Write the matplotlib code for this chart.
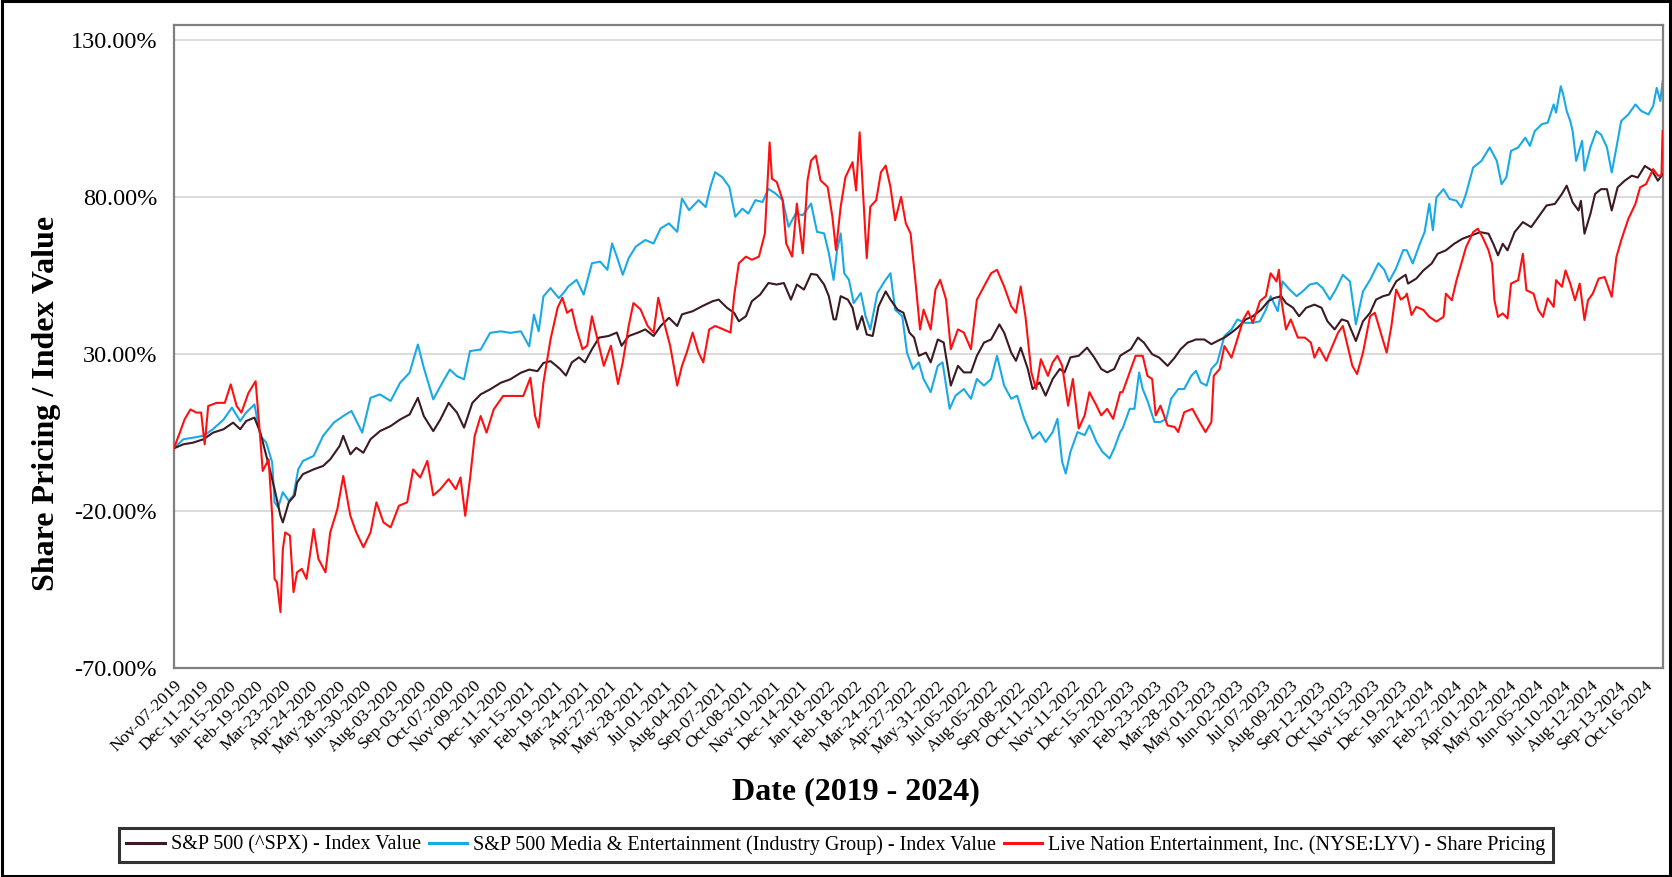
import matplotlib.pyplot as plt
from matplotlib.patches import Rectangle
from matplotlib.ticker import FuncFormatter

# trading-day index since Nov-07-2019, % change since start
spx_day = [0, 8, 16, 25, 33, 42, 50, 56, 61, 68, 73, 77, 81, 85, 90, 92, 97, 102, 104, 109,
           118, 126, 132, 140, 143, 149, 154, 160, 166, 174, 183, 191, 199, 206, 211, 219, 225, 232, 239, 245,
           252, 259, 267, 276, 284, 293, 300, 307, 312, 318, 321, 326, 331, 336, 342, 347, 353, 359, 367, 374,
           378, 384, 392, 398, 405, 411, 418, 425, 429, 438, 446, 455, 460, 467, 473, 477, 483, 488, 495, 502,
           509, 515, 521, 526, 532, 538, 543, 549, 553, 557, 559, 563, 569, 573, 577, 581, 585, 590, 595, 601,
           605, 611, 616, 621, 625, 629, 635, 639, 645, 650, 656, 662, 667, 673, 678, 684, 690, 697, 701, 707,
           711, 715, 721, 725, 731, 736, 742, 748, 752, 757, 764, 771, 777, 783, 788, 794, 799, 801, 808, 814,
           819, 826, 832, 839, 845, 850, 856, 863, 870, 876, 881, 887, 893, 898, 905, 911, 918, 924, 929, 935,
           939, 945, 950, 956, 963, 969, 974, 980, 986, 991, 998, 1004, 1010, 1015, 1021, 1026, 1032, 1036, 1040, 1042,
           1049, 1055, 1062, 1067, 1074, 1081, 1088, 1095, 1103, 1110, 1114, 1118, 1122, 1126, 1132, 1139, 1146, 1152, 1159, 1166,
           1172, 1176, 1181, 1186, 1188, 1191, 1196, 1200, 1205, 1210, 1214, 1219, 1225, 1231, 1236, 1242, 1248, 1253, 1257]
spx_val = [0.0, 1.3, 1.8, 2.9, 5.0, 6.1, 8.2, 6.1, 8.7, 9.8, 5.0, -0.8, -6.7, -13.0, -21.5, -23.6, -17.2, -15.0, -10.9, -8.2,
           -6.7, -5.6, -3.5, 0.8, 4.0, -1.9, 0.2, -1.4, 2.9, 5.5, 7.1, 9.2, 10.8, 16.1, 10.3, 5.5, 9.2, 14.5, 11.4, 6.6,
           14.5, 17.2, 18.8, 20.9, 22.0, 24.1, 25.1, 24.6, 27.2, 27.8, 26.9, 25.3, 23.2, 27.4, 29.0, 27.4, 31.6, 35.3, 35.8, 36.9,
           32.7, 35.8, 36.9, 37.9, 35.8, 39.0, 41.6, 39.0, 42.7, 43.7, 45.3, 46.9, 47.4, 44.8, 43.2, 40.5, 42.1, 46.9, 49.0, 52.7,
           52.2, 52.7, 47.4, 52.2, 50.6, 55.6, 55.3, 52.2, 48.5, 41.1, 41.1, 48.5, 47.4, 44.8, 37.9, 42.1, 36.3, 35.8, 45.3, 50.0,
           47.4, 44.2, 43.2, 36.9, 35.3, 29.5, 30.5, 27.4, 34.7, 33.7, 20.0, 26.3, 24.2, 24.2, 29.5, 33.7, 34.7, 39.5, 36.9, 30.5,
           27.9, 32.1, 25.3, 18.9, 21.0, 16.8, 22.1, 25.3, 24.2, 29.0, 29.5, 32.1, 29.0, 25.3, 24.2, 25.3, 29.5, 30.0, 31.6, 35.3,
           33.7, 30.0, 28.9, 26.3, 28.9, 31.6, 33.7, 34.7, 34.7, 33.2, 34.2, 35.3, 36.9, 38.4, 41.1, 42.1, 44.2, 46.9, 47.9, 48.5,
           46.3, 44.8, 42.1, 44.8, 45.8, 44.8, 40.5, 37.9, 41.1, 40.5, 34.2, 40.5, 43.2, 47.4, 48.5, 49.0, 53.2, 54.3, 55.3, 52.5,
           54.1, 56.7, 58.9, 62.0, 63.1, 65.2, 66.8, 67.8, 68.9, 68.4, 65.2, 61.5, 65.2, 63.1, 68.9, 72.1, 70.5, 73.7, 77.4, 77.9,
           81.1, 83.7, 78.4, 75.8, 78.9, 68.4, 74.7, 81.1, 82.6, 82.6, 75.8, 83.2, 85.3, 86.9, 86.3, 90.0, 88.5, 85.3, 87.4]

media_day = [0, 8, 16, 25, 33, 42, 49, 56, 61, 68, 73, 78, 83, 85, 88, 92, 97, 101, 105, 109,
             118, 126, 135, 143, 150, 159, 166, 174, 183, 191, 199, 206, 211, 219, 225, 233, 239, 245, 250, 259,
             267, 276, 284, 293, 300, 304, 308, 312, 318, 319, 325, 329, 333, 340, 346, 353, 360, 366, 370, 374,
             379, 384, 390, 398, 405, 411, 418, 425, 429, 435, 443, 449, 453, 457, 463, 469, 474, 480, 485, 491,
             497, 502, 508, 514, 519, 525, 531, 538, 543, 549, 553, 557, 560, 563, 566, 570, 574, 580, 584, 588,
             594, 600, 605, 609, 615, 619, 624, 629, 633, 639, 645, 649, 655, 660, 667, 673, 678, 684, 690, 695,
             701, 707, 712, 718, 725, 731, 736, 742, 746, 750, 753, 757, 763, 769, 773, 779, 784, 790, 794, 799,
             801, 807, 811, 815, 818, 822, 828, 833, 838, 842, 848, 853, 859, 863, 867, 872, 876, 881, 887, 893,
             898, 904, 911, 917, 922, 926, 932, 936, 942, 948, 953, 959, 965, 970, 976, 981, 987, 993, 998, 1004,
             1010, 1017, 1022, 1026, 1032, 1038, 1041, 1046, 1052, 1056, 1060, 1063, 1066, 1072, 1077, 1083, 1087, 1091, 1097, 1104,
             1111, 1117, 1121, 1125, 1129, 1135, 1141, 1145, 1149, 1155, 1160, 1165, 1167, 1171, 1173, 1176, 1179, 1181, 1184, 1189,
             1191, 1196, 1201, 1205, 1210, 1214, 1218, 1222, 1228, 1234, 1239, 1245, 1249, 1252, 1255, 1257]
media_val = [0.0, 2.9, 3.4, 4.0, 6.1, 9.2, 13.0, 8.7, 11.4, 14.0, 4.0, 1.8, -4.5, -17.2, -18.8, -14.0, -16.7, -15.0, -6.7, -4.0,
             -2.4, 4.0, 8.2, 10.3, 11.9, 5.0, 16.1, 17.2, 15.1, 20.9, 24.1, 33.1, 25.7, 15.6, 19.8, 25.1, 23.0, 22.0, 31.0, 31.5,
             36.8, 37.3, 36.8, 37.3, 32.5, 42.6, 37.3, 48.4, 51.1, 50.6, 47.9, 49.5, 51.6, 53.7, 49.0, 59.0, 59.5, 56.9, 65.3, 61.1,
             55.3, 60.6, 64.3, 66.4, 65.3, 70.1, 71.7, 69.0, 79.6, 75.9, 79.1, 76.9, 83.3, 88.0, 86.4, 83.3, 73.8, 76.4, 74.8, 79.1,
             78.5, 82.7, 81.2, 79.1, 70.6, 74.8, 74.3, 78.0, 69.0, 68.5, 62.2, 53.7, 63.2, 68.5, 55.8, 53.7, 46.3, 49.5, 42.1, 37.9,
             49.5, 53.2, 55.8, 44.2, 42.1, 30.5, 25.3, 27.4, 22.1, 17.9, 26.3, 27.4, 12.6, 16.8, 18.9, 15.8, 22.1, 20.0, 22.1, 29.5,
             20.0, 15.8, 16.8, 9.4, 3.1, 5.2, 2.0, 5.2, 9.4, -4.3, -8.0, -1.1, 5.2, 4.2, 7.3, 2.0, -1.1, -3.2, 0.0, 5.2,
             6.3, 12.6, 12.6, 24.2, 18.9, 15.2, 8.4, 8.4, 9.4, 15.8, 18.9, 18.9, 23.1, 24.7, 21.0, 20.0, 25.3, 27.4, 35.8, 37.9,
             41.1, 40.0, 40.0, 40.5, 44.2, 48.5, 43.7, 53.2, 50.6, 48.5, 50.0, 52.2, 52.7, 51.1, 47.4, 50.6, 55.3, 53.2, 39.5, 50.0,
             53.7, 59.0, 56.9, 53.2, 57.4, 63.2, 63.1, 58.9, 65.2, 68.9, 77.9, 69.5, 80.0, 82.6, 79.5, 78.9, 76.8, 81.1, 89.5, 91.6,
             95.9, 91.6, 84.2, 86.3, 94.8, 95.9, 99.0, 96.4, 101.1, 103.3, 103.8, 109.6, 107.0, 115.4, 112.8, 107.5, 104.3, 101.1, 91.6, 98.0,
             88.5, 95.9, 101.1, 100.0, 95.9, 87.9, 95.9, 104.3, 106.4, 109.6, 107.5, 106.4, 109.1, 114.9, 110.7, 117.0]

lyv_day = [0, 5, 9, 14, 19, 23, 26, 29, 36, 43, 48, 53, 57, 63, 69, 73, 75, 80, 83, 85,
           87, 90, 92, 94, 98, 101, 104, 108, 112, 118, 122, 128, 132, 138, 143, 149, 154, 160, 166, 171,
           177, 183, 190, 197, 202, 208, 214, 219, 225, 232, 238, 242, 246, 250, 254, 259, 264, 270, 278, 287,
           295, 301, 305, 308, 312, 318, 324, 328, 332, 336, 340, 345, 349, 353, 357, 363, 369, 375, 379, 384,
           388, 394, 400, 405, 409, 414, 419, 425, 429, 433, 438, 443, 447, 452, 457, 464, 470, 473, 477, 483,
           488, 494, 499, 503, 505, 509, 514, 517, 522, 526, 531, 535, 538, 542, 546, 552, 556, 559, 563, 567,
           573, 576, 579, 581, 585, 588, 593, 597, 601, 605, 609, 614, 618, 622, 626, 630, 633, 639, 643, 647,
           652, 656, 662, 667, 673, 678, 684, 690, 695, 701, 707, 711, 715, 719, 724, 728, 732, 738, 742, 746,
           750, 755, 759, 764, 769, 773, 779, 783, 788, 793, 799, 801, 807, 812, 818, 822, 826, 829, 833, 839,
           845, 848, 853, 860, 866, 871, 876, 878, 883, 887, 893, 897, 903, 907, 911, 917, 922, 926, 931, 933,
           935, 939, 943, 949, 955, 960, 963, 967, 973, 977, 983, 987, 991, 995, 999, 1004, 1010, 1014, 1019, 1024,
           1028, 1032, 1036, 1040, 1041, 1045, 1049, 1055, 1060, 1066, 1072, 1074, 1079, 1083, 1087, 1091, 1097, 1101, 1105, 1110,
           1113, 1115, 1118, 1122, 1126, 1129, 1135, 1139, 1142, 1148, 1152, 1156, 1160, 1165, 1167, 1172, 1175, 1179, 1183, 1187,
           1191, 1194, 1198, 1203, 1208, 1214, 1218, 1222, 1228, 1234, 1238, 1243, 1249, 1253, 1256, 1257]
lyv_val = [0.0, 5.0, 9.2, 12.4, 11.4, 11.4, 1.3, 13.5, 14.5, 14.5, 20.4, 13.5, 11.4, 17.7, 21.4, 2.9, -7.2, -3.5, -21.5, -41.6,
           -42.7, -52.2, -32.1, -26.8, -27.8, -45.8, -39.5, -38.4, -41.6, -25.7, -35.2, -39.5, -26.8, -19.4, -8.8, -21.5, -26.8, -31.5, -26.8, -17.2,
           -23.6, -25.2, -18.3, -17.2, -6.7, -9.3, -4.0, -15.0, -13.0, -9.8, -13.0, -9.3, -21.5, -9.8, 4.0, 10.3, 5.0, 12.4, 16.7, 16.7,
           16.7, 22.5, 10.3, 6.6, 20.9, 34.7, 44.8, 48.0, 43.2, 44.3, 37.9, 31.6, 32.7, 42.1, 35.8, 26.3, 32.7, 20.5, 27.4, 39.0,
           46.3, 44.3, 39.0, 36.9, 48.0, 40.0, 32.7, 20.0, 26.3, 30.5, 36.9, 30.5, 27.4, 37.9, 39.0, 37.9, 36.9, 48.5, 59.0, 61.1,
           60.1, 61.1, 68.5, 97.5, 85.9, 84.9, 79.1, 65.3, 61.1, 78.0, 62.2, 85.4, 91.7, 93.3, 85.4, 83.3, 73.8, 63.2, 77.0, 86.4,
           91.2, 82.2, 100.7, 87.5, 60.6, 77.0, 79.1, 88.0, 90.1, 83.3, 72.7, 80.1, 71.7, 68.5, 53.7, 37.9, 44.2, 37.9, 50.6, 53.7,
           47.4, 31.6, 37.9, 36.9, 31.6, 47.4, 51.6, 55.8, 56.9, 51.6, 45.3, 43.2, 51.6, 42.1, 24.2, 18.9, 28.4, 23.1, 27.4, 29.5,
           26.3, 13.6, 22.1, 6.3, 10.5, 17.9, 13.6, 10.5, 12.6, 9.4, 17.9, 17.9, 24.2, 29.5, 29.5, 23.1, 22.1, 10.5, 13.6, 7.3,
           6.8, 5.2, 11.5, 12.6, 8.4, 5.2, 8.4, 23.1, 25.3, 32.6, 28.9, 33.7, 41.1, 43.7, 40.0, 46.9, 48.5, 55.8, 53.2, 56.9,
           47.4, 37.9, 41.1, 35.3, 35.3, 33.7, 28.9, 32.1, 27.9, 31.6, 36.9, 39.0, 32.6, 26.3, 23.7, 30.5, 42.1, 43.2, 36.9, 30.5,
           39.0, 50.6, 47.4, 48.5, 49.3, 42.5, 45.1, 44.1, 41.9, 40.4, 41.9, 49.3, 47.2, 53.6, 58.9, 64.1, 68.9, 70.0, 67.3, 63.1,
           58.9, 47.2, 41.9, 43.0, 41.4, 52.5, 53.6, 62.0, 50.4, 49.3, 44.1, 41.9, 47.8, 45.1, 53.6, 51.5, 56.7, 52.5, 47.2, 52.5,
           40.9, 47.2, 49.3, 54.1, 54.6, 48.3, 61.0, 66.3, 73.1, 77.9, 83.2, 84.2, 89.0, 86.9, 87.0, 101.1]

# x labels, one every 23 trading days
tick_labels = ["Nov-07-2019", "Dec-11-2019",
               "Jan-15-2020", "Feb-19-2020", "Mar-23-2020", "Apr-24-2020", "May-28-2020", "Jun-30-2020",
               "Aug-03-2020", "Sep-03-2020", "Oct-07-2020", "Nov-09-2020", "Dec-11-2020",
               "Jan-15-2021", "Feb-19-2021", "Mar-24-2021", "Apr-27-2021", "May-28-2021", "Jul-01-2021",
               "Aug-04-2021", "Sep-07-2021", "Oct-08-2021", "Nov-10-2021", "Dec-14-2021",
               "Jan-18-2022", "Feb-18-2022", "Mar-24-2022", "Apr-27-2022", "May-31-2022", "Jul-05-2022",
               "Aug-05-2022", "Sep-08-2022", "Oct-11-2022", "Nov-11-2022", "Dec-15-2022",
               "Jan-20-2023", "Feb-23-2023", "Mar-28-2023", "May-01-2023", "Jun-02-2023", "Jul-07-2023",
               "Aug-09-2023", "Sep-12-2023", "Oct-13-2023", "Nov-15-2023", "Dec-19-2023",
               "Jan-24-2024", "Feb-27-2024", "Apr-01-2024", "May-02-2024", "Jun-05-2024", "Jul-10-2024",
               "Aug-12-2024", "Sep-13-2024", "Oct-16-2024"]
tick_step = 23
last_day = 1257
y_ticks = [-70, -20, 30, 80, 130]

series_names = ["S&P 500 (^SPX) - Index Value",
                "S&P 500 Media & Entertainment (Industry Group) - Index Value",
                "Live Nation Entertainment, Inc. (NYSE:LYV) - Share Pricing"]
colors = ["#3b1a22", "#19a9e6", "#ff1010"]

plt.rcParams['font.family'] = ['Liberation Serif', 'DejaVu Serif']

fig = plt.figure(figsize=(16.72, 8.77), dpi=100)
ax = fig.add_axes([0.104, 0.2383, 0.8904, 0.7335])

ax.plot(spx_day, spx_val, color=colors[0], lw=1.5, label=series_names[0], zorder=3)
ax.plot(media_day, media_val, color=colors[1], lw=1.5, label=series_names[1], zorder=2)
ax.plot(lyv_day, lyv_val, color=colors[2], lw=1.5, label=series_names[2], zorder=4)

ax.set_xlim(0, last_day)
ax.set_ylim(-70, 135)
ax.set_yticks(y_ticks)
ax.yaxis.set_major_formatter(FuncFormatter(lambda v, p: f"{v:.2f}%"))
ax.set_xticks([i * tick_step for i in range(len(tick_labels))])
ax.set_xticklabels(tick_labels, rotation=45, ha='right', rotation_mode='anchor', fontsize=12.5)
ax.tick_params(axis='both', length=0)
ax.tick_params(axis='y', labelsize=17.5, pad=12)
ax.tick_params(axis='x', pad=7)
ax.grid(axis='y', color='#d9d9d9', lw=1.3)
ax.set_axisbelow(True)
for s in ax.spines.values():
    s.set_color('#808080')
    s.set_linewidth(1.6)

ax.set_ylabel("Share Pricing / Index Value", fontsize=23, fontweight='bold')
ax.yaxis.set_label_coords(-0.0755, 0.412)
ax.set_xlabel("Date (2019 - 2024)", fontsize=23, fontweight='bold')
ax.xaxis.set_label_coords(0.458, -0.169)

leg = fig.legend(loc='center', bbox_to_anchor=(0.5, 0.0365), ncol=3, fontsize=14.5,
                 frameon=True, fancybox=False, handlelength=1.9, handletextpad=0.3,
                 columnspacing=0.4, borderpad=0.35)
leg.get_frame().set_edgecolor('black')
leg.get_frame().set_linewidth(2.2)
for line in leg.get_lines():
    line.set_linewidth(2.2)

fig.patches.append(Rectangle((0.001, 0.001), 0.998, 0.998, transform=fig.transFigure,
                             fill=False, edgecolor='black', lw=2.2))

fig.savefig("out.png", dpi=100)
